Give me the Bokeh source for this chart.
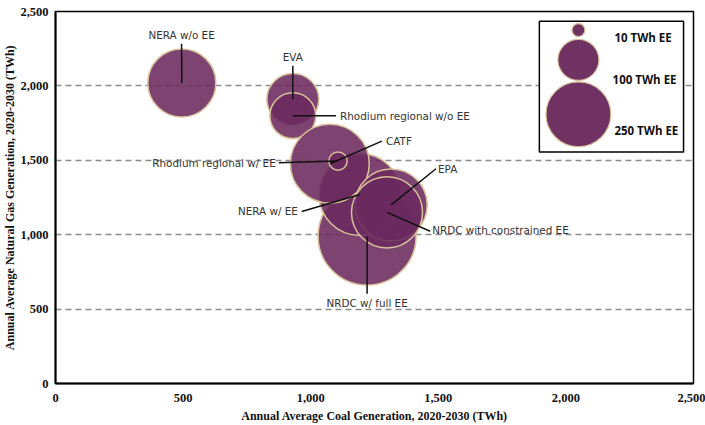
import numpy as np
from bokeh.plotting import figure
from bokeh.models import Range1d, FixedTicker, NumeralTickFormatter, ColumnDataSource
from bokeh.embed import file_html
from bokeh.resources import INLINE
from bokeh.core.properties import value

# ---- data (drawing order) ----
studies = ["NERA w/o EE", "EVA", "Rhodium regional w/o EE", "NRDC w/ full EE", "NERA w/ EE",
           "CATF", "Rhodium regional w/ EE", "EPA", "NRDC with constrained EE"]
coal_twh = [495, 930, 930, 1221, 1193, 1075, 1107, 1315, 1299]
gas_twh = [2020, 1910, 1800, 990, 1270, 1477, 1495, 1200, 1150]
ee_twh = [275, 160, 125, 570, 400, 370, 20, 310, 300]

legend_ee = [10, 100, 250]
legend_labels = ["10 TWh EE", "100 TWh EE", "250 TWh EE"]

axis_ticks = [0, 500, 1000, 1500, 2000, 2500]

# ---- label layout (annotation positions, data units) ----
lab_x = [494, 930, 1115, 1221, 950, 1295, 863, 1499, 1476]
lab_y = [2344, 2195, 1800, 543, 1156, 1629, 1483, 1443, 1030]
lab_align = ["center", "center", "left", "center", "right", "left", "right", "left", "left"]
lead_x = [494, 930, 1099, 1221, 965, 1279, 875, 1491, 1468]
lead_y = [2284, 2135, 1800, 603, 1156, 1629, 1483, 1443, 1023]

BUB = "#6b2a5e"
EDGE = "#d8c09a"
PX_PER_SQRT = 4.1  # bubble diameter in px per sqrt(TWh)

p = figure(width=705, height=425, output_backend="svg", toolbar_location=None,
           x_range=Range1d(0, 2500), y_range=Range1d(0, 2500),
           min_border_left=0, min_border_right=12, min_border_top=11, min_border_bottom=38)
p.background_fill_color = "white"
p.border_fill_color = "white"
p.outline_line_color = "black"
p.outline_line_width = 1.5

p.xgrid.grid_line_color = None
p.ygrid.grid_line_color = "#8c8c8c"
p.ygrid.grid_line_dash = "6 4"
p.ygrid.grid_line_width = 1.3

for ax in (p.xaxis[0], p.yaxis[0]):
    ax.ticker = FixedTicker(ticks=axis_ticks)
    ax.formatter = NumeralTickFormatter(format="0,0")
    ax.major_tick_line_color = None
    ax.minor_tick_line_color = None
    ax.axis_line_color = "black"
    ax.axis_line_width = 2
    ax.major_label_text_font = "Liberation Serif"
    ax.major_label_text_font_style = "bold"
    ax.major_label_text_font_size = "12.5px"
    ax.major_label_text_color = "#111111"
    ax.axis_label_text_font = "Liberation Serif"
    ax.axis_label_text_font_style = "bold"
    ax.axis_label_text_font_size = "12px"
    ax.axis_label_text_color = "#111111"

p.xaxis.axis_label = "Annual Average Coal Generation, 2020-2030 (TWh)"
p.yaxis.axis_label = "Annual Average Natural Gas Generation, 2020-2030 (TWh)"
p.xaxis.major_label_standoff = 4
p.xaxis.axis_label_standoff = 4
p.yaxis.major_label_standoff = 1
p.yaxis.axis_label_standoff = 0

# legend box (white, drawn above the grid)
p.quad(left=[1896], right=[2461], bottom=[1556], top=[2434],
       fill_color="white", line_color="black", line_width=1.5)

src = ColumnDataSource(dict(x=coal_twh, y=gas_twh,
                            size=[PX_PER_SQRT * np.sqrt(v) for v in ee_twh]))
p.scatter("x", "y", size="size", source=src, fill_color=BUB, fill_alpha=0.88,
          line_color=EDGE, line_width=1.5)

# leader lines
p.segment(x0=lead_x, y0=lead_y, x1=coal_twh, y1=gas_twh, line_color="#111111", line_width=1.5)

for t, x, y, a in zip(studies, lab_x, lab_y, lab_align):
    p.text(x=[x], y=[y], text=[t], text_align=a, text_baseline="middle",
           text_font=value("DejaVu Sans"), text_font_size="10.4px", text_color="#333333")

leg_x = [2049, 2049, 2049]
leg_y = [2375, 2175, 1809]
leg_tx = [2190, 2183, 2190]
leg_ty = [2328, 2042, 1702]
p.scatter(x=leg_x, y=leg_y, size=[PX_PER_SQRT * np.sqrt(v) for v in legend_ee],
          fill_color=BUB, fill_alpha=0.97, line_color=EDGE, line_width=1.2)
p.text(x=leg_tx, y=leg_ty, text=legend_labels, text_align="left", text_baseline="middle",
       text_font=value("Open Sans"), text_font_style="bold", text_font_size="11.5px",
       text_color="#111111")

open("out.html", "w").write(file_html(p, INLINE))
